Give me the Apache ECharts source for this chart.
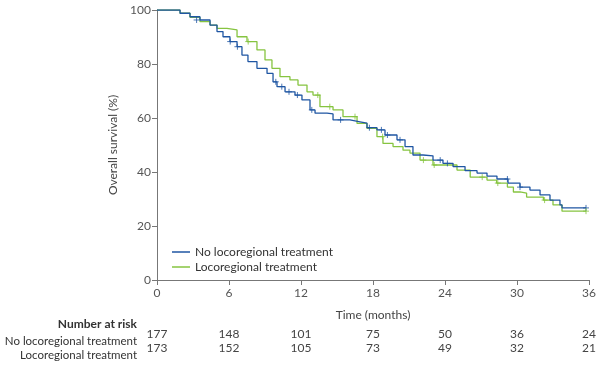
<!DOCTYPE html>
<html><head><meta charset="utf-8">
<script src="https://cdn.jsdelivr.net/npm/echarts@6/dist/echarts.min.js"></script>
<style>html,body{margin:0;padding:0;background:#fff}#c{width:600px;height:366px}</style>
</head><body><div id="c"></div>
<script>
const xTicks = [0, 6, 12, 18, 24, 30, 36];
const seriesNames = ['No locoregional treatment', 'Locoregional treatment'];
const riskNo = [177, 148, 101, 75, 50, 36, 24];
const riskLoco = [173, 152, 105, 73, 49, 32, 21];
// Kaplan-Meier steps: [month, survival %]
const survNo = [[0,100],[1.33,100],[1.92,98.8],[2.75,97.5],[3.58,96.3],[4.42,94.4],[5.0,92],[5.5,90.1],[6.08,88.3],[6.67,86.4],[7.08,83.3],[7.58,80.9],[8.33,78.4],[9.17,76.5],[9.67,73.4],[10.0,71.6],[10.67,69.7],[11.5,68.5],[12.08,66.7],[12.75,63],[13.17,61.8],[14.17,61.5],[14.67,59.3],[16.08,58.6],[16.92,58.1],[17.5,56.4],[18.33,55.6],[19.0,53.7],[20.0,51.9],[20.67,49.4],[21.33,46.3],[22.17,46],[23.0,44.4],[23.83,43.2],[24.67,42],[25.67,40.5],[26.67,39.6],[27.5,38.5],[28.33,37.4],[29.25,35.9],[30.25,34.4],[31.08,33.3],[31.92,31.5],[32.75,29.6],[33.58,27.8],[33.75,26.7],[35.75,26.7]];
const survLoco = [[0,100],[1.33,100],[1.92,98.8],[2.75,97.3],[3.58,95.7],[4.42,94.4],[5.0,93.2],[5.83,92.6],[6.67,90.1],[7.5,88.3],[8.33,85.2],[9.0,81.5],[9.58,78.4],[10.25,75.3],[11.08,74.1],[11.75,72.2],[12.5,69.7],[13.0,68.5],[13.58,64.2],[14.67,63],[15.5,60.5],[16.67,58],[17.5,56.2],[18.33,53.1],[18.83,50.6],[19.67,49.4],[20.5,48.1],[21.08,47],[21.92,44.4],[23.0,42.6],[25.0,40.7],[26.1,38.1],[27.5,37],[28.3,35.9],[29.2,34.4],[29.7,32.6],[30.25,32.2],[30.8,30.7],[32.2,29.6],[33.0,27.8],[33.75,25.5],[35.75,25.5]];
const censorNo = [[3.3,96.3],[6.1,88.3],[6.7,86.4],[9.9,73.4],[10.4,71.6],[11.0,69.7],[11.7,68.5],[12.9,63],[15.3,59.3],[17.7,56.4],[18.7,55.6],[19.2,53.7],[20.25,51.9],[23.6,44.4],[24.2,43.2],[29.2,37.4],[30.25,34.4],[35.75,26.7]];
const censorLoco = [[7.6,88.3],[13.4,68.5],[14.4,64.2],[16.5,60.5],[18.8,53.1],[22.2,44.4],[23.1,42.6],[27.1,38.1],[28.4,35.9],[32.3,29.6],[35.75,25.5]];

const BLUE = '#1f56a3', GREEN = '#86c440';
const FONT = 'Lato';
const plus = 'path://M0,5L10,5M5,0L5,10';

const chart = echarts.init(document.getElementById('c'));
const baseX = {type:'value', min:0, max:36, interval:6, gridIndex:0};
chart.setOption({
  animation:false,
  textStyle:{fontFamily:FONT},
  grid:{left:157, right:11, top:10, bottom:86},
  legend:{data:seriesNames, orient:'vertical', left:167, top:241, itemWidth:18, itemHeight:1.5, itemGap:3,
    icon:'rect', textStyle:{fontFamily:FONT, fontSize:12, color:'#333'}},
  xAxis:[
    Object.assign({}, baseX, {
      name:'Time (months)', nameLocation:'middle', nameGap:29,
      nameTextStyle:{fontFamily:FONT, fontSize:12, color:'#444'},
      axisLine:{lineStyle:{color:'#777', width:1}},
      axisTick:{show:true, length:5, lineStyle:{color:'#777'}},
      axisLabel:{fontFamily:FONT, fontSize:12, color:'#555', margin:7, formatter:v=>xTicks.includes(v)?String(v):''},
      splitLine:{show:false}
    }),
    Object.assign({}, baseX, {
      position:'bottom', offset:48, axisLine:{show:false}, axisTick:{show:false}, splitLine:{show:false},
      axisLabel:{fontFamily:FONT, fontSize:12, color:'#444', margin:0, formatter:v=>String(riskNo[xTicks.indexOf(v)])}
    }),
    Object.assign({}, baseX, {
      position:'bottom', offset:62, axisLine:{show:false}, axisTick:{show:false}, splitLine:{show:false},
      axisLabel:{fontFamily:FONT, fontSize:12, color:'#444', margin:0, formatter:v=>String(riskLoco[xTicks.indexOf(v)])}
    })
  ],
  yAxis:{type:'value', min:0, max:100, interval:20,
    name:'Overall survival (%)', nameLocation:'middle', nameGap:30, nameRotate:90,
    nameTextStyle:{fontFamily:FONT, fontSize:12, color:'#444'},
    axisLine:{show:true, lineStyle:{color:'#777', width:1}},
    axisTick:{show:true, length:5, lineStyle:{color:'#777'}},
    axisLabel:{fontFamily:FONT, fontSize:12, color:'#555', margin:6},
    splitLine:{show:false}},
  graphic:[
    {type:'text', right:600-137, top:318, style:{text:'Number at risk', font:'bold 12px '+FONT, fill:'#333', textAlign:'right'}},
    {type:'text', right:600-137, top:335, style:{text:seriesNames[0], font:'11.5px '+FONT, fill:'#333', textAlign:'right'}},
    {type:'text', right:600-137, top:349, style:{text:seriesNames[1], font:'11.5px '+FONT, fill:'#333', textAlign:'right'}}
  ],
  series:[
    {name:seriesNames[0], type:'line', step:'end', data:survNo, symbol:'none', lineStyle:{color:BLUE, width:1.3}, itemStyle:{color:BLUE}, z:3},
    {name:seriesNames[1], type:'line', step:'end', data:survLoco, symbol:'none', lineStyle:{color:GREEN, width:1.3}, itemStyle:{color:GREEN}, z:2},
    {name:'censorNo', type:'scatter', data:censorNo, symbol:plus, symbolSize:6, itemStyle:{color:'none', borderColor:BLUE, borderWidth:1}, z:4},
    {name:'censorLoco', type:'scatter', data:censorLoco, symbol:plus, symbolSize:6, itemStyle:{color:'none', borderColor:GREEN, borderWidth:1}, z:4}
  ]
});
</script></body></html>
